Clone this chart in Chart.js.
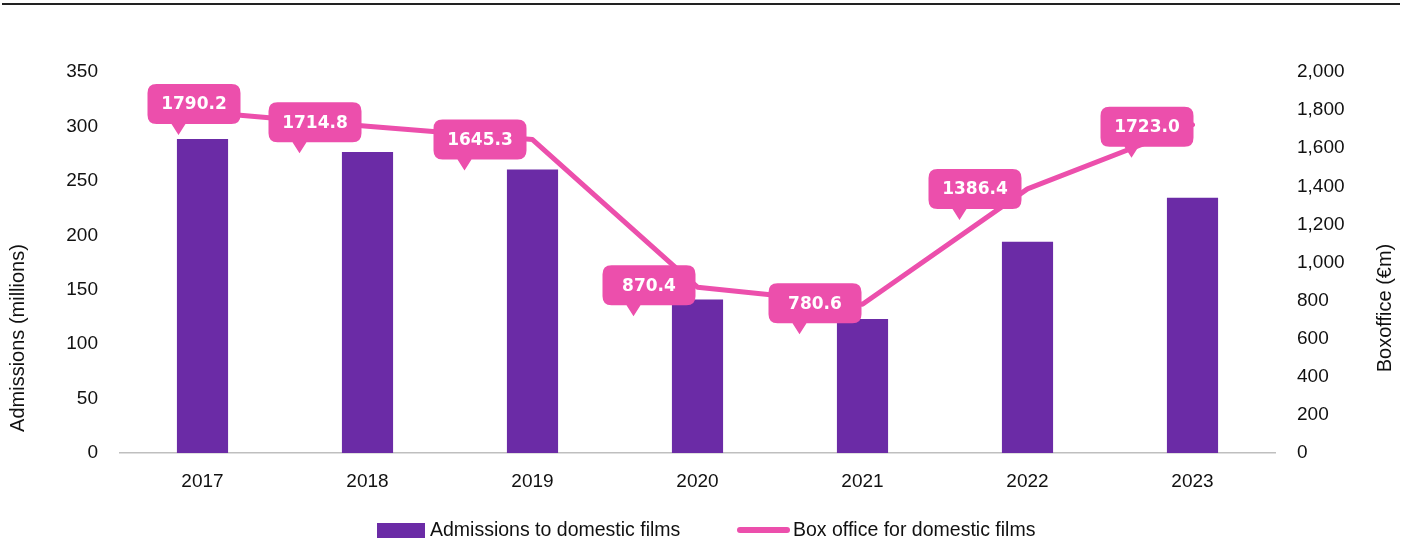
<!DOCTYPE html>
<html lang="en">
  <head>
    <meta charset="UTF-8" />
    <title>Admissions and box office for domestic films</title>
    <script src="https://cdn.jsdelivr.net/npm/chart.js"></script>
    <style>
      html, body { margin: 0; padding: 0; background: #fff; }
      #wrap { width: 1407px; height: 541px; position: relative; }
    </style>
  </head>

  <body>
    <div id="wrap">
      <canvas id="chart" width="1407" height="541"></canvas>
    </div>

    <script>
      const years = ["2017", "2018", "2019", "2020", "2021", "2022", "2023"];
      const admissions = [288.5, 276.5, 260.5, 141, 123, 194, 234.5];
      const boxOffice = [1790.2, 1714.8, 1645.3, 870.4, 780.6, 1386.4, 1723.0];
      const admissionsTicks = [0, 50, 100, 150, 200, 250, 300, 350];
      const boxOfficeTicks = [0, 200, 400, 600, 800, 1000, 1200, 1400, 1600, 1800, 2000];

      const purple = "#6b2ba6";
      const pink = "#ec4fac";
      const textColor = "#111";
      const fontFamily = "'Liberation Sans', Arial, sans-serif";

      // where each callout box sits, relative to its point (box top-left)
      const calloutOffsets = [
        [-55, -28], [-99, -24], [-99, -20], [-95, -22], [-94, -21], [-99, -20], [-92, -18],
      ];

      function roundRect(ctx, x, y, w, h, r) {
        ctx.beginPath();
        ctx.moveTo(x + r, y);
        ctx.lineTo(x + w - r, y);
        ctx.quadraticCurveTo(x + w, y, x + w, y + r);
        ctx.lineTo(x + w, y + h - r);
        ctx.quadraticCurveTo(x + w, y + h, x + w - r, y + h);
        // pointer on the bottom edge
        ctx.lineTo(x + 38, y + h);
        ctx.lineTo(x + 31, y + h + 11);
        ctx.lineTo(x + 24, y + h);
        ctx.lineTo(x + r, y + h);
        ctx.quadraticCurveTo(x, y + h, x, y + h - r);
        ctx.lineTo(x, y + r);
        ctx.quadraticCurveTo(x, y, x + r, y);
        ctx.closePath();
      }

      const extras = {
        id: "extras",
        beforeDraw(chart) {
          const ctx = chart.ctx;
          ctx.save();
          ctx.fillStyle = "#fff";
          ctx.fillRect(0, 0, chart.width, chart.height);
          ctx.strokeStyle = "#222";
          ctx.lineWidth = 2;
          ctx.beginPath();
          ctx.moveTo(2, 4);
          ctx.lineTo(1400, 4);
          ctx.stroke();
          ctx.restore();
        },
        afterDatasetsDraw(chart) {
          const ctx = chart.ctx;
          const meta = chart.getDatasetMeta(1);
          ctx.save();
          meta.data.forEach((pt, i) => {
            const off = calloutOffsets[i];
            const bx = pt.x + off[0];
            const by = pt.y + off[1];
            const bw = 93, bh = 40;
            roundRect(ctx, bx, by, bw, bh, 9);
            ctx.fillStyle = pink;
            ctx.fill();
            ctx.fillStyle = "#fff";
            ctx.font = "bold 17px 'DejaVu Sans', sans-serif";
            ctx.textAlign = "center";
            ctx.textBaseline = "middle";
            ctx.fillText(boxOffice[i].toFixed(1), bx + bw / 2, by + bh / 2 + 1);
          });
          ctx.restore();
        },
        afterDraw(chart) {
          const ctx = chart.ctx;
          ctx.save();
          ctx.fillStyle = textColor;
          ctx.font = "20px " + fontFamily;
          ctx.textAlign = "center";
          ctx.textBaseline = "middle";
          // axis titles, both reading bottom to top
          ctx.save();
          ctx.translate(18, 338);
          ctx.rotate(-Math.PI / 2);
          ctx.fillText("Admissions (millions)", 0, 0);
          ctx.restore();
          ctx.save();
          ctx.translate(1385, 308);
          ctx.rotate(-Math.PI / 2);
          ctx.fillText("Boxoffice (€m)", 0, 0);
          ctx.restore();

          // legend
          ctx.font = "19.5px " + fontFamily;
          ctx.textAlign = "left";
          ctx.fillStyle = purple;
          ctx.fillRect(377, 523, 48, 15);
          ctx.fillStyle = textColor;
          ctx.fillText(chart.data.datasets[0].label, 430, 531);
          ctx.strokeStyle = pink;
          ctx.lineWidth = 6;
          ctx.lineCap = "round";
          ctx.beginPath();
          ctx.moveTo(740, 530);
          ctx.lineTo(787, 530);
          ctx.stroke();
          ctx.fillText(chart.data.datasets[1].label, 793, 531);
          ctx.restore();
        },
      };

      new Chart(document.getElementById("chart"), {
        type: "bar",
        data: {
          labels: years,
          datasets: [
            {
              type: "bar",
              label: "Admissions to domestic films",
              data: admissions,
              backgroundColor: purple,
              yAxisID: "y",
              barPercentage: 0.31,
              categoryPercentage: 1,
              order: 1,
            },
            {
              type: "line",
              label: "Box office for domestic films",
              data: boxOffice,
              borderColor: pink,
              backgroundColor: pink,
              borderWidth: 5,
              pointRadius: 0,
              borderCapStyle: "round",
              borderJoinStyle: "round",
              tension: 0,
              yAxisID: "y1",
              order: 0,
            },
          ],
        },
        options: {
          responsive: false,
          animation: false,
          devicePixelRatio: 1,
          layout: { padding: { top: 72, bottom: 0, left: 0, right: 0 } },
          plugins: {
            legend: { display: false },
            tooltip: { enabled: false },
          },
          scales: {
            x: {
              grid: { display: false, drawTicks: false },
              border: { display: true, color: "#bfbfbf", width: 1.5 },
              ticks: {
                color: textColor,
                font: { size: 19, family: fontFamily },
                padding: 17,
              },
              afterFit(scale) {
                scale.height = 88;
              },
            },
            y: {
              position: "left",
              min: 0,
              max: 350,
              grid: { display: false, drawTicks: false },
              border: { display: false },
              afterBuildTicks(scale) {
                scale.ticks = admissionsTicks.map((v) => ({ value: v }));
              },
              ticks: {
                color: textColor,
                font: { size: 19, family: fontFamily },
                padding: 22,
              },
              afterFit(scale) {
                scale.width = 120;
              },
            },
            y1: {
              position: "right",
              min: 0,
              max: 2000,
              grid: { display: false, drawTicks: false },
              border: { display: false },
              afterBuildTicks(scale) {
                scale.ticks = boxOfficeTicks.map((v) => ({ value: v }));
              },
              ticks: {
                color: textColor,
                font: { size: 19, family: fontFamily },
                padding: 22,
                callback: (v) => v.toLocaleString("en-US"),
              },
              afterFit(scale) {
                scale.width = 132;
              },
            },
          },
        },
        plugins: [extras],
      });
    </script>
  </body>
</html>
